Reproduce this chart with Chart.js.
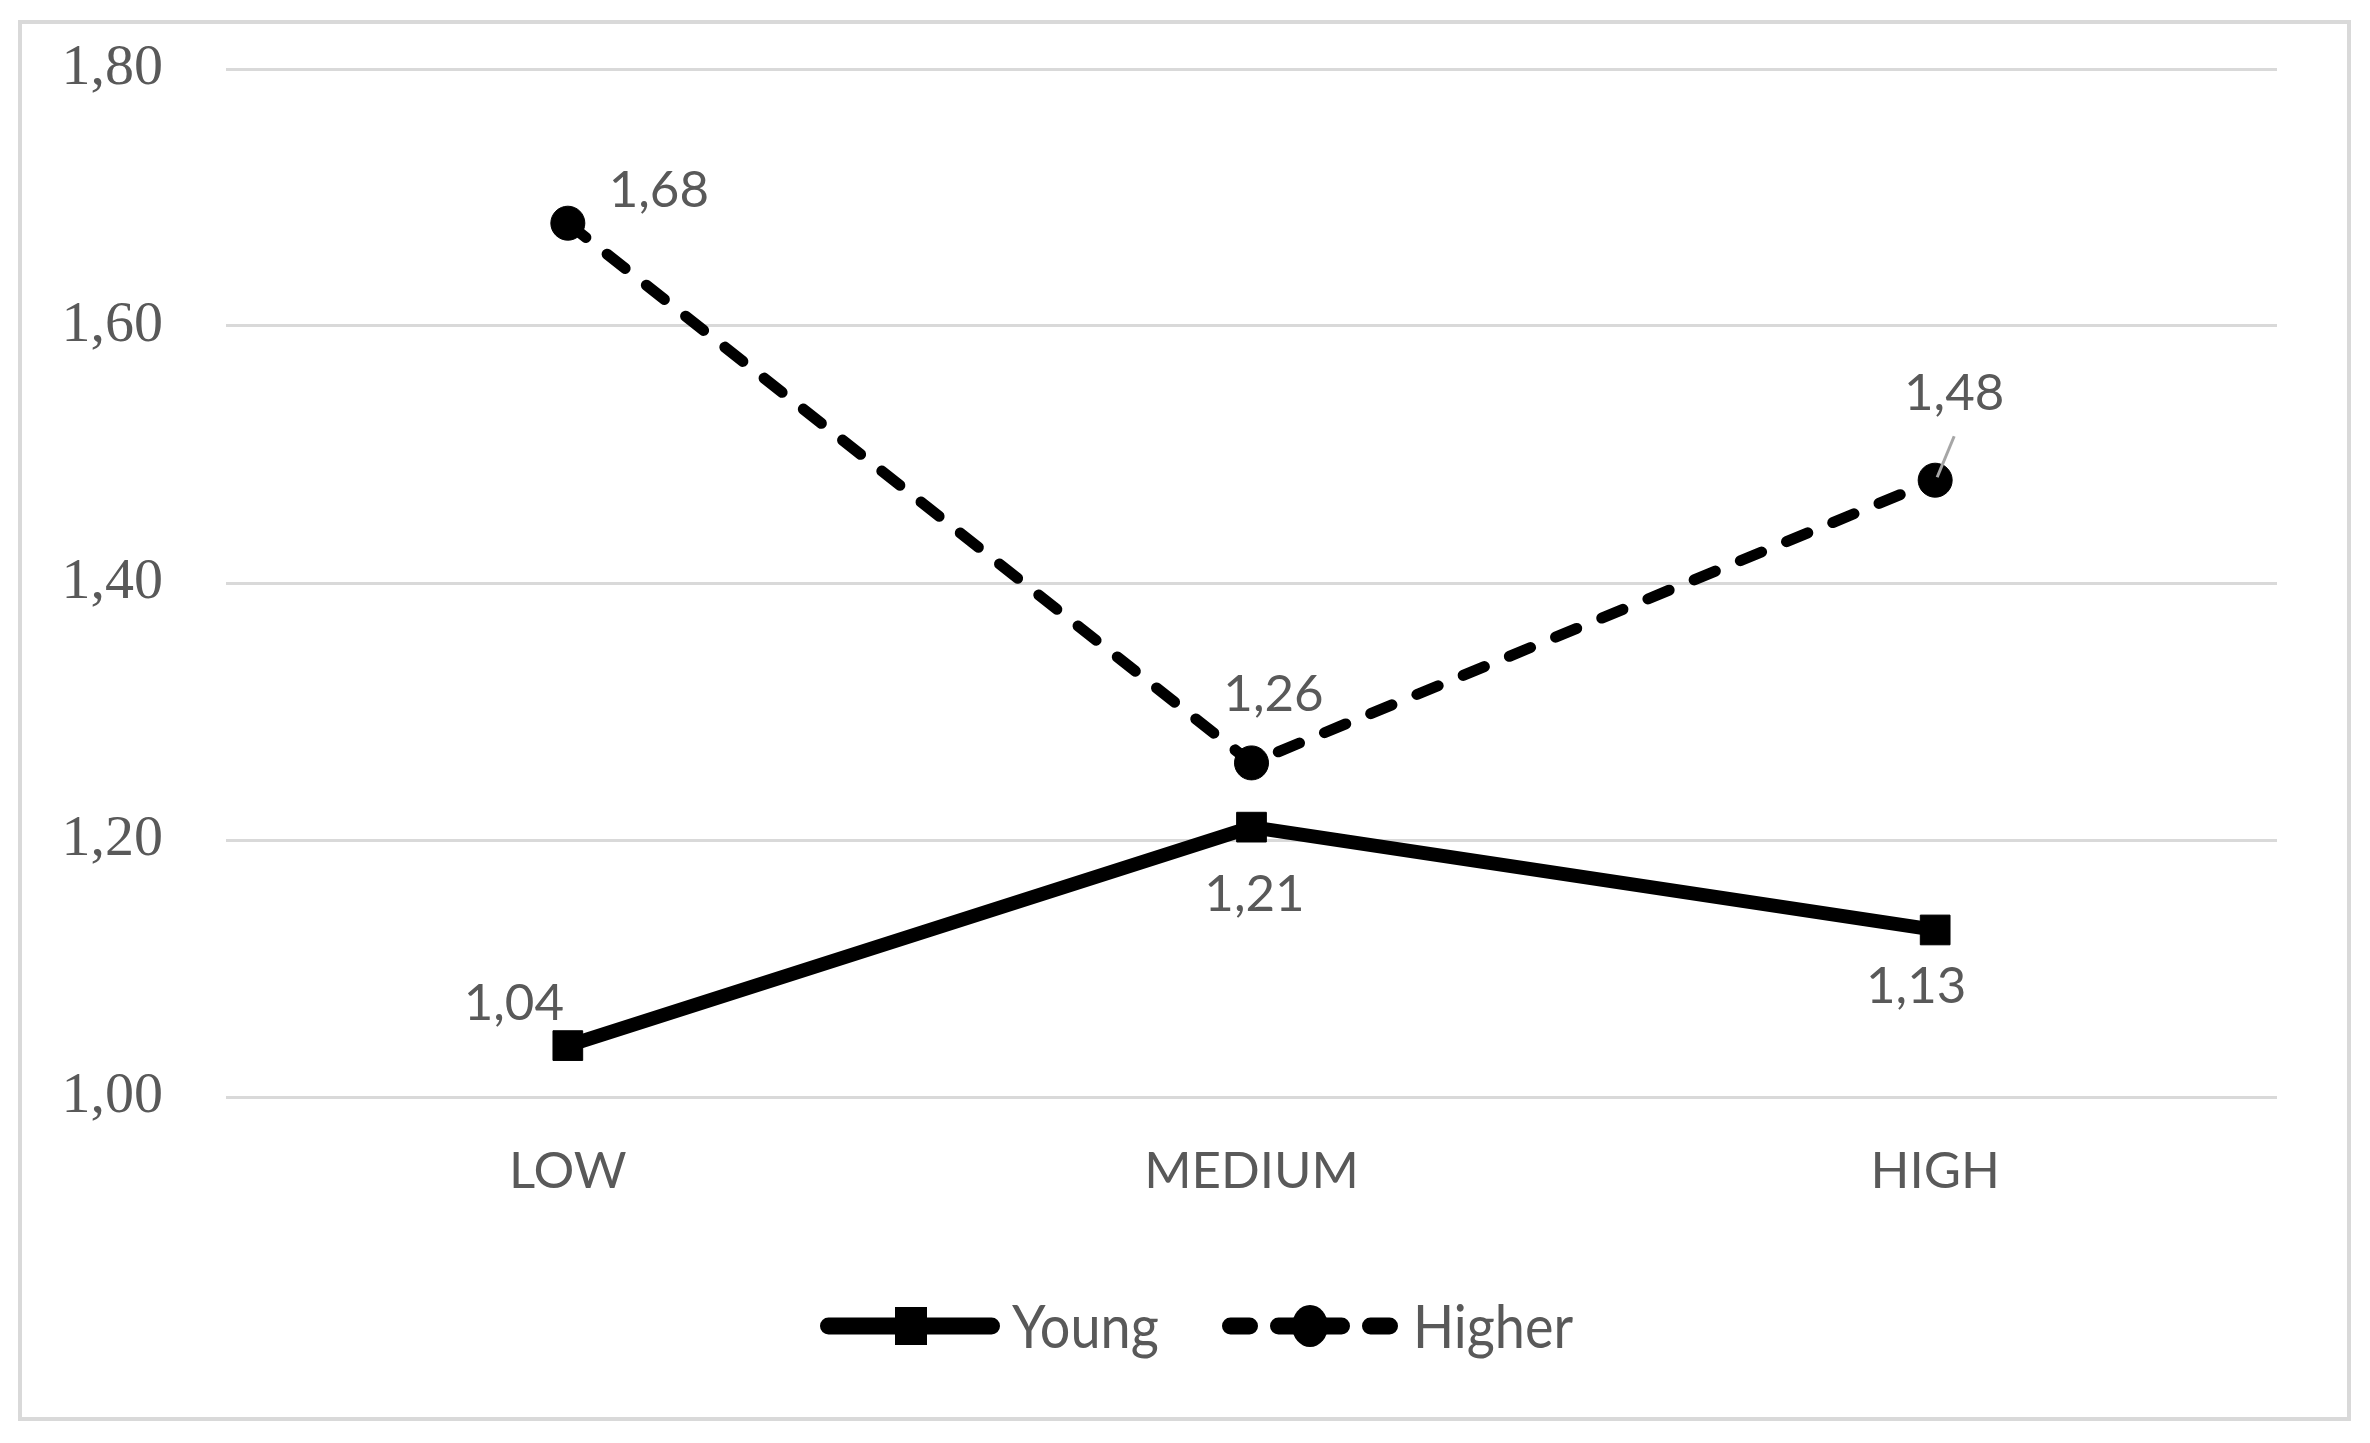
<!DOCTYPE html>
<html><head><meta charset="utf-8">
<script src="https://cdn.jsdelivr.net/npm/chart.js@4"></script>
<style>html,body{margin:0;padding:0;background:#fff}#wrap{width:2370px;height:1443px;position:relative}</style>
</head><body><div id="wrap"><canvas id="c" width="2370" height="1443"></canvas></div>
<script>
const categories = ['LOW', 'MEDIUM', 'HIGH'];
const seriesNames = ['Young', 'Higher'];
const youngValues = [1.04, 1.21, 1.13];
const higherValues = [1.68, 1.26, 1.48];
const yTickValues = [1.00, 1.20, 1.40, 1.60, 1.80];

const fmt = v => v.toFixed(2).replace('.', ',');
const TEXT = '#595959';
const LABEL_FONT = '51px Lato';

// label offsets relative to each point (layout only)
const labelOffsets = [
  [[-54, -44], [3, 66], [-19, 55]],
  [[91, -34], [22, -70], [19, -88]]
];

const framePlugin = {
  id: 'frame',
  beforeDraw(chart) {
    const ctx = chart.ctx;
    ctx.save();
    ctx.fillStyle = '#fff';
    ctx.fillRect(0, 0, chart.width, chart.height);
    ctx.strokeStyle = '#d9d9d9';
    ctx.lineWidth = 4;
    ctx.strokeRect(20, 22, 2329, 1397);
    ctx.restore();
  },
  afterDatasetsDraw(chart) {
    const ctx = chart.ctx;
    ctx.save();
    ctx.font = LABEL_FONT;
    ctx.fillStyle = TEXT;
    ctx.textAlign = 'center';
    ctx.textBaseline = 'alphabetic';
    chart.data.datasets.forEach((ds, di) => {
      const meta = chart.getDatasetMeta(di);
      meta.data.forEach((pt, i) => {
        const [dx, dy] = labelOffsets[di][i];
        if (di === 1 && i === 2) {
          ctx.save();
          ctx.strokeStyle = '#a6a6a6';
          ctx.lineWidth = 3;
          ctx.beginPath();
          ctx.moveTo(pt.x + 19, pt.y - 44);
          ctx.lineTo(pt.x + 2, pt.y - 3);
          ctx.stroke();
          ctx.restore();
        }
        ctx.fillText(fmt(ds.data[i]), pt.x + dx, pt.y + dy + 18);
      });
    });
    ctx.restore();
  },
  afterDraw(chart) {
    const ctx = chart.ctx;
    ctx.save();
    ctx.strokeStyle = '#000';
    ctx.fillStyle = '#000';
    ctx.lineCap = 'round';
    ctx.lineWidth = 17;
    const ly = 1326;
    const h = 8.5;
    // Young
    ctx.beginPath(); ctx.moveTo(820 + h, ly); ctx.lineTo(1000 - h, ly); ctx.stroke();
    ctx.fillRect(895, ly - 19, 32, 38);
    // Higher
    [[1222, 1258], [1270, 1350], [1362, 1398]].forEach(([a, b]) => {
      ctx.beginPath(); ctx.moveTo(a + h, ly); ctx.lineTo(b - h, ly); ctx.stroke();
    });
    ctx.beginPath(); ctx.ellipse(1310, ly, 18, 21, 0, 0, Math.PI * 2); ctx.fill();
    ctx.font = '54px Lato';
    ctx.fillStyle = TEXT;
    ctx.textAlign = 'left';
    ctx.textBaseline = 'alphabetic';
    ctx.translate(0, 1348);
    ctx.scale(1, 1.1);
    ctx.fillText(seriesNames[0], 1012, 0);
    ctx.fillText(seriesNames[1], 1413, 0);
    ctx.restore();
  }
};

new Chart(document.getElementById('c'), {
  type: 'line',
  data: {
    labels: categories,
    datasets: [
      {
        label: seriesNames[0],
        data: youngValues,
        borderColor: '#000',
        backgroundColor: '#000',
        borderWidth: 14,
        borderCapStyle: 'round',
        borderJoinStyle: 'round',
        pointStyle: 'rect',
        pointRadius: 21,
        pointBorderWidth: 1,
        pointBorderColor: '#000',
        pointBackgroundColor: '#000',
        tension: 0
      },
      {
        label: seriesNames[1],
        data: higherValues,
        borderColor: '#000',
        backgroundColor: '#000',
        borderWidth: 11,
        borderDash: [23, 27],
        borderCapStyle: 'round',
        borderJoinStyle: 'round',
        pointStyle: 'circle',
        pointRadius: 17,
        pointBorderWidth: 1,
        pointBorderColor: '#000',
        pointBackgroundColor: '#000',
        tension: 0
      }
    ]
  },
  options: {
    responsive: false,
    animation: false,
    devicePixelRatio: 1,
    layout: { padding: { left: 0, right: 93, top: 69, bottom: 0 } },
    plugins: { legend: { display: false }, tooltip: { enabled: false } },
    scales: {
      x: {
        offset: true,
        grid: { display: false, drawTicks: false },
        border: { display: false },
        ticks: { color: TEXT, font: { family: 'Lato', size: 51 }, padding: 44, maxRotation: 0 },
        afterFit(scale) { scale.height = 1443 - 1097; }
      },
      y: {
        min: 1.0,
        max: 1.8,
        grid: { color: '#d9d9d9', lineWidth: 3, drawTicks: false },
        border: { display: false },
        afterBuildTicks(scale) { scale.ticks = yTickValues.map(v => ({ value: v })); },
        ticks: {
          color: TEXT,
          font: { family: 'Liberation Serif', size: 58 },
          padding: 63,
          callback: v => fmt(v)
        },
        afterFit(scale) {
          scale.width = 226;
          scale.paddingTop = 0;
          scale.paddingBottom = 0;
        }
      }
    }
  },
  plugins: [framePlugin]
});
</script>
</body></html>
